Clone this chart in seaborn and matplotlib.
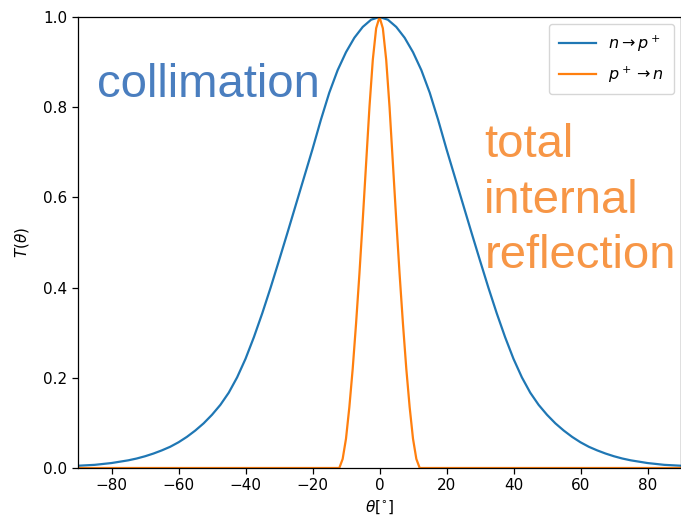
import numpy as np
import pandas as pd
import matplotlib
matplotlib.use("Agg")
import matplotlib.pyplot as plt
import seaborn as sns

# Angle of incidence (degrees) for the n -> p+ transmission curve
theta_np = np.arange(-90, 90.1, 2.5)
# Transmission probability n -> p+ (collimating junction)
T_np = [0.005, 0.006, 0.007, 0.009, 0.011, 0.014, 0.017, 0.021, 0.026, 0.032,
        0.039, 0.047, 0.057, 0.069, 0.083, 0.099, 0.118, 0.140, 0.167, 0.201,
        0.242, 0.290, 0.343, 0.400, 0.460, 0.521, 0.583, 0.645, 0.707, 0.772,
        0.832, 0.882, 0.922, 0.954, 0.978, 0.994, 1.000,
        0.994, 0.978, 0.954, 0.922, 0.882, 0.832, 0.772, 0.707, 0.645, 0.583,
        0.521, 0.460, 0.400, 0.343, 0.290, 0.242, 0.201, 0.167, 0.140, 0.118,
        0.099, 0.083, 0.069, 0.057, 0.047, 0.039, 0.032, 0.026, 0.021, 0.017,
        0.014, 0.011, 0.009, 0.007, 0.006, 0.005]

# Angle of incidence (degrees) for the p+ -> n transmission curve
theta_pn = [-90, -12, -11, -10, -9, -8, -7, -6, -5, -4, -3, -2, -1, 0,
            1, 2, 3, 4, 5, 6, 7, 8, 9, 10, 11, 12, 90]
# Transmission probability p+ -> n (total internal reflection beyond ~12 deg)
T_pn = [0.0, 0.0, 0.02, 0.065, 0.135, 0.22, 0.32, 0.43, 0.55, 0.675, 0.80, 0.905, 0.975, 1.0,
        0.975, 0.905, 0.80, 0.675, 0.55, 0.43, 0.32, 0.22, 0.135, 0.065, 0.02, 0.0, 0.0]

series_labels = [r"$n\rightarrow p^+$", r"$p^+\rightarrow n$"]
series_colors = ["#1f77b4", "#ff7f0e"]

x_ticks = [-80, -60, -40, -20, 0, 20, 40, 60, 80]
y_ticks = [0.0, 0.2, 0.4, 0.6, 0.8, 1.0]

plt.rcParams["font.family"] = ["DejaVu Sans"]
plt.rcParams["mathtext.fontset"] = "dejavusans"

fig = plt.figure(figsize=(6.81, 5.26), dpi=100)
ax = fig.add_axes([78 / 681, 58 / 526, 603 / 681, 451 / 526])

df_np = pd.DataFrame({"theta": theta_np, "T": T_np})
df_pn = pd.DataFrame({"theta": theta_pn, "T": T_pn})
sns.lineplot(data=df_np, x="theta", y="T", ax=ax, color=series_colors[0],
             linewidth=1.6, label=series_labels[0])
sns.lineplot(data=df_pn, x="theta", y="T", ax=ax, color=series_colors[1],
             linewidth=1.6, label=series_labels[1])

ax.set_xlim(-90, 90)
ax.set_ylim(0, 1.0)
ax.set_xticks(x_ticks)
ax.set_yticks(y_ticks)
ax.set_yticklabels([f"{v:.1f}" for v in y_ticks])
ax.tick_params(labelsize=11, length=4, width=0.9)
for s in ax.spines.values():
    s.set_linewidth(0.9)
ax.set_xlabel(r"$\theta[^{\circ}]$", fontsize=11)
ax.set_ylabel(r"$T(\theta)$", fontsize=11, labelpad=9)

ax.legend(loc="upper right", fontsize=11.5, handlelength=2.3,
          labelspacing=0.65, borderpad=0.6, borderaxespad=0.45)

# Annotations of the two regimes
ax.text(-84.2, 0.823, "collimation", color="#4a7ebf", fontsize=34,
        family="Liberation Sans", ha="left", va="baseline")
for line, yv in zip(["total", "internal", "reflection"], [0.690, 0.566, 0.443]):
    ax.text(31.3, yv, line, color="#f79646", fontsize=34,
            family="Liberation Sans", ha="left", va="baseline", clip_on=False)

fig.savefig("out.png", dpi=100)
